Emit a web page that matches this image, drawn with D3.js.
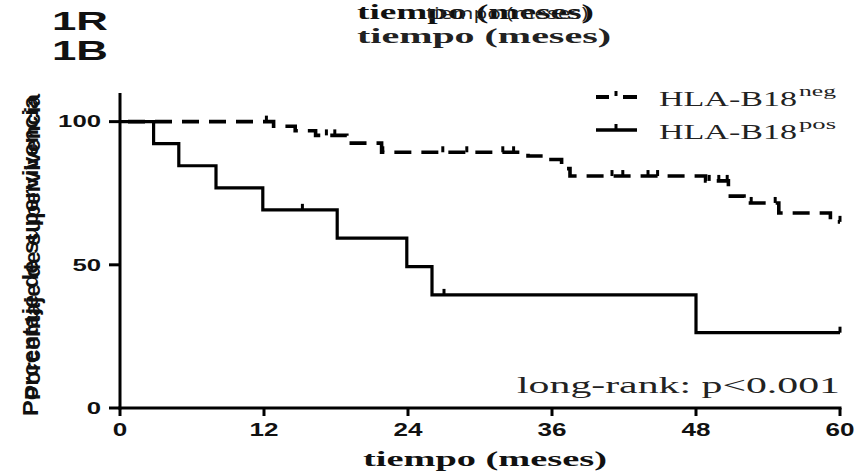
<!DOCTYPE html>
<html><head><meta charset="utf-8">
<script src="https://d3js.org/d3.v7.min.js"></script>
<style>html,body{margin:0;padding:0;background:#fff;}svg{display:block;}</style>
</head><body>
<script>
// ---- data ----
const xTicks = [0, 12, 24, 36, 48, 60];
const yTicks = [0, 50, 100];
const posTimes = [0, 2.8, 4.9, 8.0, 11.9, 18.1, 23.9, 26.0, 48.0, 60];
const posSurv  = [100, 92.3, 84.6, 76.9, 69.2, 59.3, 49.4, 39.5, 26.3, 26.3];
const posCensor = [15.2, 27.0, 60.0];
const negTimes = [0, 12.8, 14.6, 16.3, 18.9, 21.8, 34.0, 35.6, 36.8, 37.5, 48.8, 50.7, 52.0, 54.9, 59.2, 60];
const negSurv  = [100, 98.4, 96.8, 95.2, 92.5, 89.3, 88.0, 86.8, 83.6, 81.0, 79.3, 74.0, 71.6, 68.1, 65.0, 65.0];
const negCensor = [12.2, 17.2, 17.9, 21.9, 26.9, 28.9, 31.9, 32.8, 41.0, 41.9, 44.0, 44.8, 49.1, 49.9, 50.6, 52.6, 54.6, 60.0];
const legendLabels = ["HLA-B18", "HLA-B18"];
const legendSups = ["neg", "pos"];
const panelLabels = ["1R", "1B"];
const xLabel = "tiempo (meses)";
const yLabel = "Porcentaje de supervivencia";
const pText = "long-rank: p<0.001";

// ---- drawing ----
const W = 856, H = 475;
const svg = d3.select("body").append("svg").attr("width", W).attr("height", H);
svg.append("rect").attr("width", W).attr("height", H).attr("fill", "#fff");

const x = d3.scaleLinear().domain([0, 60]).range([120, 840]);
const y = d3.scaleLinear().domain([0, 110]).range([408, 93]);

const sans = "'Liberation Sans', Arial, sans-serif";
const serif = "'Liberation Serif', 'DejaVu Serif', serif";

function stretch(sel, len) {
  sel.attr("textLength", len).attr("lengthAdjust", "spacingAndGlyphs");
}

// header texts (overlapping as in the reference)
svg.append("text").attr("x", 52).attr("y", 30).attr("font-family", sans).attr("font-weight", "bold")
  .attr("font-size", 26).attr("fill", "#111").text(panelLabels[0]).call(stretch, 56);
svg.append("text").attr("x", 52).attr("y", 60).attr("font-family", sans).attr("font-weight", "bold")
  .attr("font-size", 27).attr("fill", "#111").text(panelLabels[1]).call(stretch, 56);
svg.append("text").attr("x", 357).attr("y", 19).attr("font-family", serif).attr("font-weight", "bold")
  .attr("font-size", 22).attr("fill", "#111").text(xLabel).call(stretch, 237);
svg.append("text").attr("x", 426).attr("y", 19).attr("font-family", "'Open Sans', sans-serif")
  .attr("font-size", 16).attr("fill", "#222").text(xLabel).call(stretch, 162);
svg.append("text").attr("x", 357).attr("y", 43).attr("font-family", serif).attr("font-weight", "bold")
  .attr("font-size", 21).attr("fill", "#222").text(xLabel).call(stretch, 254);

// y label (two overlapping copies)
svg.append("text").attr("transform", "translate(38,416) rotate(-90)")
  .attr("font-family", sans).attr("font-weight", "bold").attr("font-size", 22).attr("fill", "#111")
  .text(yLabel).call(stretch, 320);
svg.append("text").attr("transform", "translate(40,400) rotate(-90)")
  .attr("font-family", sans).attr("font-weight", "bold").attr("font-size", 22).attr("fill", "#111")
  .text(yLabel).call(stretch, 306);

// axes
const axG = svg.append("g");
axG.append("line").attr("x1", x(0)).attr("x2", x(0)).attr("y1", y(110)).attr("y2", y(0) + 1.5)
  .attr("stroke", "#000").attr("stroke-width", 3);
axG.append("line").attr("x1", x(0) - 1.5).attr("x2", x(60) + 1.5).attr("y1", y(0)).attr("y2", y(0))
  .attr("stroke", "#000").attr("stroke-width", 3);
yTicks.forEach(v => {
  axG.append("line").attr("x1", x(0) - 11).attr("x2", x(0)).attr("y1", y(v)).attr("y2", y(v))
    .attr("stroke", "#000").attr("stroke-width", 3);
  const s = String(v);
  axG.append("text").attr("x", 101).attr("y", y(v)).attr("dy", "0.36em").attr("text-anchor", "end")
    .attr("font-family", sans).attr("font-weight", "bold").attr("font-size", 16).attr("fill", "#111")
    .text(s).call(stretch, s.length * 14.3);
});
xTicks.forEach(v => {
  axG.append("line").attr("x1", x(v)).attr("x2", x(v)).attr("y1", y(0)).attr("y2", y(0) + 8)
    .attr("stroke", "#000").attr("stroke-width", 3);
  const s = String(v);
  axG.append("text").attr("x", x(v)).attr("y", 436).attr("text-anchor", "middle")
    .attr("font-family", sans).attr("font-weight", "bold").attr("font-size", 18).attr("fill", "#111")
    .text(s).call(stretch, s.length * 14.5);
});
svg.append("text").attr("x", 485).attr("y", 466).attr("text-anchor", "middle")
  .attr("font-family", serif).attr("font-weight", "bold").attr("font-size", 22).attr("fill", "#111")
  .text(xLabel).call(stretch, 244);

// survival curves
const line = d3.line().x(d => x(d[0])).y(d => y(d[1])).curve(d3.curveStepAfter);
const posData = posTimes.map((t, i) => [t, posSurv[i]]);
const negData = negTimes.map((t, i) => [t, negSurv[i]]);

function survAt(data, t) {
  let v = data[0][1];
  for (const d of data) { if (d[0] <= t) v = d[1]; }
  return v;
}

svg.append("path").datum(negData).attr("d", line).attr("fill", "none").attr("stroke", "#000")
  .attr("stroke-width", 3.6).attr("stroke-dasharray", "17,10").attr("stroke-dashoffset", -8);
svg.append("path").datum(posData).attr("d", line).attr("fill", "none").attr("stroke", "#000")
  .attr("stroke-width", 3.2);

function censors(times, data) {
  svg.append("g").selectAll("line").data(times).join("line")
    .attr("x1", d => x(d)).attr("x2", d => x(d))
    .attr("y1", d => y(survAt(data, d))).attr("y2", d => y(survAt(data, d)) - 6)
    .attr("stroke", "#000").attr("stroke-width", 3);
}
censors(negCensor, negData);
censors(posCensor, posData);

// legend
const lg = svg.append("g");
[0, 1].forEach(i => {
  const ly = 97 + i * 33;
  if (i === 0) {
    lg.append("line").attr("x1", 596).attr("x2", 609).attr("y1", ly).attr("y2", ly).attr("stroke", "#000").attr("stroke-width", 4);
    lg.append("line").attr("x1", 623).attr("x2", 637).attr("y1", ly).attr("y2", ly).attr("stroke", "#000").attr("stroke-width", 4);
    lg.append("line").attr("x1", 616).attr("x2", 616).attr("y1", ly - 6).attr("y2", ly - 1).attr("stroke", "#000").attr("stroke-width", 3);
  } else {
    lg.append("line").attr("x1", 596).attr("x2", 637).attr("y1", ly).attr("y2", ly).attr("stroke", "#000").attr("stroke-width", 3.5);
    lg.append("line").attr("x1", 616).attr("x2", 616).attr("y1", ly - 6).attr("y2", ly).attr("stroke", "#000").attr("stroke-width", 3);
  }
  lg.append("text").attr("x", 659).attr("y", ly + 9).attr("font-family", serif).attr("font-size", 21)
    .attr("fill", "#222").text(legendLabels[i]).call(stretch, 138);
  lg.append("text").attr("x", 799).attr("y", ly - 1).attr("font-family", serif).attr("font-size", 14)
    .attr("fill", "#222").text(legendSups[i]).call(stretch, 37);
});

// p-value annotation
svg.append("text").attr("x", 840).attr("y", 393).attr("text-anchor", "end").attr("font-family", serif)
  .attr("font-size", 23).attr("fill", "#222").text(pText).call(stretch, 323);
</script>
</body></html>
